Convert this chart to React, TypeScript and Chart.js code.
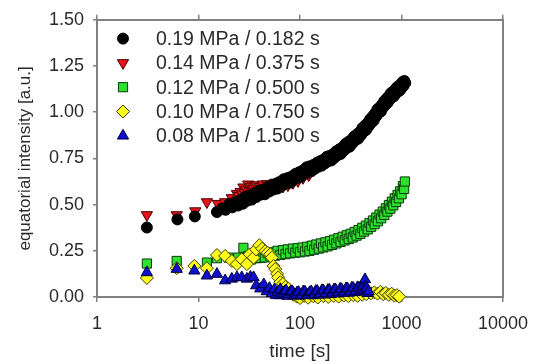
import React, { useEffect, useRef } from 'react';
import { Chart, registerables } from 'chart.js';
import { drawPoint } from 'chart.js/helpers';

Chart.register(...registerables);

const seriesLabels = [
  '0.19 MPa / 0.182 s',
  '0.14 MPa / 0.375 s',
  '0.12 MPa / 0.500 s',
  '0.10 MPa / 0.750 s',
  '0.08 MPa / 1.500 s',
];

const blackTime = [3.1, 6.2, 9.2, 15.2, 17, 18.5, 20, 21.5, 23, 24.5, 26, 27.5, 29, 30.5, 32, 33.5, 35, 37, 39, 41, 43, 45, 48, 50, 53, 55, 58, 60, 63, 66, 69, 72, 76, 79, 83, 86, 90, 94, 98, 102, 106, 111, 116, 120, 125, 130, 136, 141, 147, 152, 158, 164, 171, 177, 184, 190, 197, 204, 212, 219, 227, 235, 244, 252, 261, 270, 280, 289, 299, 309, 320, 330, 341, 352, 364, 375, 387, 399, 412, 424, 437, 450, 464, 477, 491, 505, 520, 534, 549, 564, 580, 595, 611, 627, 644, 660, 677, 694, 712, 729, 747, 765, 784, 802, 821, 840, 860, 879, 899, 919, 940, 960, 981, 1002, 1024, 1045, 1068, 1090];
const blackIntensity = [0.376, 0.42, 0.436, 0.46, 0.478, 0.472, 0.502, 0.485, 0.515, 0.495, 0.525, 0.505, 0.543, 0.522, 0.55, 0.527, 0.558, 0.541, 0.574, 0.554, 0.58, 0.556, 0.593, 0.571, 0.605, 0.582, 0.612, 0.587, 0.622, 0.601, 0.637, 0.615, 0.644, 0.618, 0.652, 0.633, 0.666, 0.645, 0.675, 0.65, 0.684, 0.666, 0.702, 0.678, 0.707, 0.681, 0.715, 0.695, 0.727, 0.705, 0.735, 0.711, 0.744, 0.724, 0.759, 0.735, 0.764, 0.739, 0.773, 0.754, 0.788, 0.768, 0.799, 0.774, 0.809, 0.792, 0.828, 0.806, 0.839, 0.814, 0.85, 0.833, 0.868, 0.849, 0.88, 0.857, 0.893, 0.876, 0.915, 0.895, 0.927, 0.905, 0.942, 0.926, 0.962, 0.943, 0.977, 0.956, 0.994, 0.978, 1.016, 0.995, 1.026, 1.004, 1.042, 1.026, 1.06, 1.04, 1.073, 1.051, 1.085, 1.068, 1.102, 1.082, 1.111, 1.086, 1.12, 1.101, 1.134, 1.113, 1.142, 1.117, 1.15, 1.131, 1.164, 1.142, 1.169, 1.158];

const redTime = [3.1, 6.1, 9.3, 12.1, 15.5, 18.3, 21.3, 23.9, 25, 26, 27, 27.7, 28.5, 29.5, 30.9, 32, 33, 34, 35, 36.3, 37.5, 39, 40, 41.5, 43, 44.5, 46, 47.5, 49, 50.5, 52, 53.5, 55, 56.5, 58, 60, 62, 64, 66, 68, 70, 72, 74, 76, 78, 80.5, 83, 85.5, 88, 90.5, 93, 95.5, 98, 101, 104, 107, 110, 114, 118, 122, 126];
const redIntensity = [0.444, 0.444, 0.465, 0.514, 0.505, 0.514, 0.536, 0.559, 0.548, 0.57, 0.556, 0.594, 0.566, 0.582, 0.61, 0.575, 0.598, 0.572, 0.588, 0.6, 0.606, 0.578, 0.596, 0.585, 0.61, 0.59, 0.585, 0.612, 0.602, 0.58, 0.612, 0.596, 0.594, 0.618, 0.62, 0.592, 0.6, 0.626, 0.628, 0.598, 0.612, 0.635, 0.64, 0.605, 0.622, 0.648, 0.65, 0.618, 0.635, 0.66, 0.665, 0.628, 0.648, 0.672, 0.68, 0.645, 0.665, 0.69, 0.69, 0.66, 0.672];

const greenTime = [3.1, 6.1, 12.1, 15.2, 19.8, 24.6, 27.7, 29, 31, 33, 35, 37, 39, 41, 43, 45, 48, 51, 54, 57, 60, 64, 68, 72, 76, 80, 85, 90, 95, 100, 106, 112, 118, 124, 131, 138, 145, 153, 161, 169, 178, 187, 197, 207, 217, 228, 239, 251, 263, 276, 289, 302, 316, 331, 346, 361, 377, 394, 411, 428, 446, 465, 484, 503, 523, 544, 565, 586, 608, 631, 654, 678, 702, 727, 752, 778, 804, 831, 858, 886, 914, 943, 972, 1002, 1032, 1062, 1080];
const greenIntensity = [0.181, 0.195, 0.186, 0.21, 0.213, 0.213, 0.266, 0.205, 0.222, 0.203, 0.226, 0.21, 0.23, 0.212, 0.234, 0.214, 0.238, 0.22, 0.242, 0.224, 0.25, 0.228, 0.254, 0.232, 0.258, 0.236, 0.262, 0.24, 0.264, 0.242, 0.268, 0.246, 0.272, 0.25, 0.278, 0.256, 0.284, 0.262, 0.29, 0.268, 0.296, 0.274, 0.302, 0.282, 0.31, 0.29, 0.318, 0.298, 0.326, 0.306, 0.334, 0.314, 0.342, 0.322, 0.352, 0.332, 0.362, 0.342, 0.374, 0.354, 0.386, 0.366, 0.4, 0.38, 0.414, 0.394, 0.43, 0.41, 0.446, 0.426, 0.462, 0.444, 0.48, 0.462, 0.498, 0.478, 0.516, 0.496, 0.534, 0.514, 0.552, 0.534, 0.572, 0.556, 0.6, 0.585, 0.625];

const yellowTime = [3.1, 6.1, 9.1, 12.1, 15.2, 18.3, 21.3, 23.9, 26.7, 30, 32, 34.9, 37, 39.8, 42.5, 45.4, 48, 51, 52.8, 55, 57, 59.5, 61, 64, 68, 72, 77, 82, 86, 93, 100, 110, 120, 135, 150, 170, 190, 215, 240, 270, 300, 335, 370, 410, 450, 500, 540, 580, 620, 660, 700, 750, 800, 850, 900, 950];
const yellowIntensity = [0.103, 0.156, 0.168, 0.156, 0.227, 0.222, 0.195, 0.178, 0.204, 0.178, 0.231, 0.213, 0.257, 0.28, 0.262, 0.248, 0.24, 0.231, 0.213, 0.168, 0.151, 0.125, 0.106, 0.08, 0.071, 0.055, 0.045, 0.03, 0.012, 0.002, -0.006, 0.006, -0.004, 0.004, -0.003, 0.005, 0.0, 0.006, 0.002, 0.008, 0.004, 0.01, 0.006, 0.012, 0.015, 0.02, 0.025, 0.018, 0.028, 0.015, 0.022, 0.012, 0.018, 0.008, 0.01, 0.002];

const blueTime = [3.1, 6.1, 9.1, 12.1, 15.2, 18.3, 21.3, 23.9, 26.7, 30, 32.5, 34.9, 37, 40.6, 44, 47, 50, 52.8, 56, 58, 60, 62, 64, 66, 68, 70.5, 73, 75.5, 78, 81, 84, 87, 90, 93.5, 97, 100.5, 104, 108, 112, 116, 120, 124.5, 129, 133.5, 138, 143, 148, 153.5, 159, 164.5, 170, 176, 182, 188.5, 195, 202, 209, 216.5, 224, 232, 240, 248.5, 257, 266, 275, 284.5, 294, 304, 314, 324.5, 335, 346, 357, 368.5, 380, 392, 404, 412, 420, 428, 437, 446, 455, 465, 475];
const blueIntensity = [0.133, 0.151, 0.142, 0.115, 0.124, 0.089, 0.098, 0.106, 0.106, 0.098, 0.108, 0.106, 0.062, 0.045, 0.068, 0.03, 0.048, 0.02, 0.04, 0.01, 0.025, 0.008, 0.042, 0.012, 0.018, 0.03, 0.035, 0.005, 0.015, 0.028, 0.03, 0.008, 0.012, 0.024, 0.026, 0.006, 0.01, 0.03, 0.028, 0.01, 0.012, 0.025, 0.03, 0.008, 0.015, 0.032, 0.032, 0.012, 0.018, 0.036, 0.035, 0.012, 0.02, 0.038, 0.038, 0.015, 0.022, 0.04, 0.04, 0.018, 0.025, 0.044, 0.042, 0.02, 0.028, 0.046, 0.045, 0.022, 0.03, 0.05, 0.048, 0.025, 0.032, 0.052, 0.05, 0.028, 0.035, 0.065, 0.06, 0.04, 0.095, 0.055, 0.045, 0.02, 0.03];

const xTickValues = [1, 10, 100, 1000, 10000];
const yTickValues = [0, 0.25, 0.5, 0.75, 1.0, 1.25, 1.5];

const FONT = "'Liberation Sans', Arial, Helvetica, sans-serif";
const TEXT = '#2a2a2a';
const AXIS = '#808080';

const toPoints = (xs: number[], ys: number[]) => xs.map((x, i) => ({ x, y: ys[i] }));

const insideLegend = {
  id: 'insideLegend',
  afterDraw(chart: any, _args: any, opts: any) {
    const { ctx, chartArea } = chart;
    ctx.save();
    chart.data.datasets.forEach((ds: any, i: number) => {
      const y = chartArea.top + opts.firstRow + i * opts.rowGap;
      const x = chartArea.left + opts.markerX;
      ctx.fillStyle = ds.pointBackgroundColor;
      ctx.strokeStyle = ds.pointBorderColor;
      ctx.lineWidth = ds.pointBorderWidth;
      drawPoint(ctx, {
        pointStyle: ds.pointStyle,
        rotation: ds.pointRotation || 0,
        radius: ds.pointRadius,
        borderWidth: ds.pointBorderWidth,
      } as any, x, y);
      ctx.fillStyle = opts.color;
      ctx.font = `${opts.fontSize}px ${FONT}`;
      ctx.textBaseline = 'middle';
      ctx.textAlign = 'left';
      ctx.fillText(ds.label, chartArea.left + opts.textX, y + 1);
    });
    ctx.restore();
  },
};

const decadeTicks = (s: any) => {
  s.ticks = xTickValues.map((v) => ({ value: v }));
};

export default function App() {
  const ref = useRef<HTMLCanvasElement>(null);
  useEffect(() => {
    document.body.style.margin = '0';
    if (!ref.current) return;
    const common = { showLine: false, clip: false as any, pointBorderWidth: 1 };
    const chart = new Chart(ref.current, {
      type: 'scatter',
      data: {
        datasets: [
          { ...common, label: seriesLabels[0], data: toPoints(blackTime, blackIntensity), pointStyle: 'circle', pointRadius: 5.5, pointBackgroundColor: '#000000', pointBorderColor: '#000000', order: 1 },
          { ...common, label: seriesLabels[1], data: toPoints(redTime, redIntensity), pointStyle: 'triangle', pointRotation: 180, pointRadius: 6.5, pointBackgroundColor: '#e8141a', pointBorderColor: '#4a0000', order: 2 },
          { ...common, label: seriesLabels[2], data: toPoints(greenTime, greenIntensity), pointStyle: 'rect', pointRadius: 6.5, pointBackgroundColor: '#2ee02e', pointBorderColor: '#0a3a0a', order: 5 },
          { ...common, label: seriesLabels[3], data: toPoints(yellowTime, yellowIntensity), pointStyle: 'rectRot', pointRadius: 6.5, pointBackgroundColor: '#ffff1a', pointBorderColor: '#3a3a00', order: 4 },
          { ...common, label: seriesLabels[4], data: toPoints(blueTime, blueIntensity), pointStyle: 'triangle', pointRadius: 6.5, pointBackgroundColor: '#1010d0', pointBorderColor: '#000040', order: 3 },
        ] as any,
      },
      options: {
        responsive: false,
        animation: false,
        events: [],
        layout: { padding: { left: 0, right: 36, top: 0, bottom: 0 } },
        plugins: {
          legend: { display: false },
          tooltip: { enabled: false },
          insideLegend: { firstRow: 18.8, rowGap: 24.3, markerX: 26, textX: 59, fontSize: 19.5, color: TEXT },
        } as any,
        scales: {
          x: {
            type: 'logarithmic',
            position: 'bottom',
            min: 1,
            max: 10000,
            afterBuildTicks: decadeTicks,
            afterFit: (s: any) => { s.height = 67; },
            ticks: { autoSkip: false, maxRotation: 0, padding: 11, color: TEXT, font: { size: 18, family: FONT }, callback: (v: any) => String(v) },
            grid: { drawOnChartArea: false, drawTicks: true, tickLength: 5, color: AXIS, lineWidth: 1.5 },
            border: { color: AXIS, width: 2 },
            title: { display: true, text: 'time [s]', color: TEXT, font: { size: 19, family: FONT }, padding: { top: 1, bottom: 1 } },
          },
          xTop: {
            type: 'logarithmic',
            position: 'top',
            min: 1,
            max: 10000,
            afterBuildTicks: decadeTicks,
            afterFit: (s: any) => { s.height = 15; },
            ticks: { display: false },
            grid: { drawOnChartArea: false, drawTicks: true, tickLength: 5, color: AXIS, lineWidth: 1.5 },
            border: { color: AXIS, width: 2 },
          },
          y: {
            type: 'linear',
            position: 'left',
            min: 0,
            max: 1.5,
            afterBuildTicks: (s: any) => { s.ticks = yTickValues.map((v) => ({ value: v })); },
            afterFit: (s: any) => { s.width = 97; },
            ticks: { padding: 9, color: TEXT, font: { size: 18, family: FONT }, callback: (v: any) => Number(v).toFixed(2) },
            grid: { drawOnChartArea: false, drawTicks: true, tickLength: 4, color: AXIS, lineWidth: 1.5 },
            border: { color: AXIS, width: 2 },
            title: { display: true, text: 'equatorial intensity [a.u.]', color: TEXT, font: { size: 17, family: FONT }, padding: { top: 15, bottom: 15 } },
          },
          yRight: {
            type: 'linear',
            position: 'right',
            min: 0,
            max: 1.5,
            afterFit: (s: any) => { s.width = 0; },
            ticks: { display: false },
            grid: { display: false },
            border: { color: AXIS, width: 2 },
          },
        } as any,
      },
      plugins: [insideLegend as any],
    });
    return () => chart.destroy();
  }, []);
  return (
    <div style={{ width: 539, height: 364 }}>
      <canvas ref={ref} width={539} height={364} />
    </div>
  );
}
